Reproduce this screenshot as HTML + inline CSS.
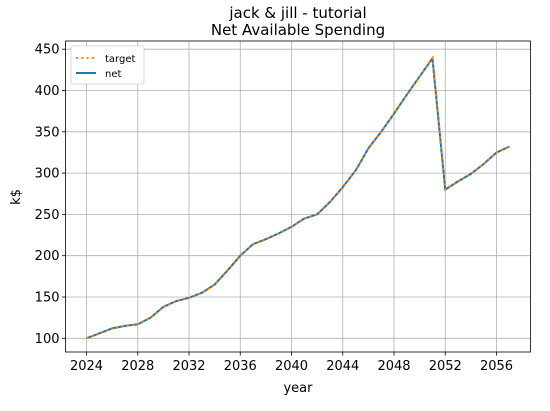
<!DOCTYPE html>
<html><head><meta charset="utf-8"><style>body{margin:0;background:#fff}svg{display:block;font-family:"DejaVu Sans","Liberation Sans",sans-serif}</style></head>
<body>
<svg id="c" width="550" height="411"></svg>
<script>
const years=[2024,2025,2026,2027,2028,2029,2030,2031,2032,2033,2034,2035,2036,2037,2038,2039,2040,2041,2042,2043,2044,2045,2046,2047,2048,2049,2050,2051,2052,2053,2054,2055,2056,2057];
const netValues=[100,106,112,115,117,125,138,145,149,155,165,182,200,214,220,227,235,245,250,265,283,303,330,350,372,395,417,439,280,290,299,311,325,332];
const targetValues=netValues.slice();
const xTicks=[2024,2028,2032,2036,2040,2044,2048,2052,2056];
const yTicks=[100,150,200,250,300,350,400,450];
const L=65.5,R=530.5,T=41,B=352;
const x=v=>86.5+(v-2024)*12.8125;
const y=v=>338.3-(v-100)*41.3/50;
const s=document.getElementById('c');const NS='http://www.w3.org/2000/svg';
function el(t,a,txt){const e=document.createElementNS(NS,t);for(const k in a)e.setAttribute(k,a[k]);if(txt!==undefined)e.textContent=txt;s.appendChild(e);return e;}
let e;
xTicks.forEach(v=>{e=el('line',{x1:x(v),x2:x(v),y1:T,y2:B,stroke:'#b0b0b0','stroke-width':0.8});
e=el('line',{x1:x(v),x2:x(v),y1:B,y2:B+3.5,stroke:'#000','stroke-width':0.8});
e=el('text',{x:x(v),y:B+18,'text-anchor':'middle','font-size':13},v);});
yTicks.forEach(v=>{e=el('line',{x1:L,x2:R,y1:y(v),y2:y(v),stroke:'#b0b0b0','stroke-width':0.8});
e=el('line',{x1:L-3.5,x2:L,y1:y(v),y2:y(v),stroke:'#000','stroke-width':0.8});
e=el('text',{x:L-6,y:y(v)+4.5,'text-anchor':'end','font-size':13},v);});
const pts=a=>a.map((v,i)=>x(years[i])+','+y(v)).join(' ');
e=el('polyline',{points:pts(netValues),fill:'none',stroke:'#1f77b4','stroke-width':2});
e=el('polyline',{points:pts(targetValues),fill:'none',stroke:'#ff7f0e','stroke-width':2,'stroke-dasharray':'2,3.3'});
e=el('rect',{x:L,y:T,width:R-L,height:B-T,fill:'none',stroke:'#000','stroke-width':0.8});
e=el('text',{x:298,y:18,'text-anchor':'middle','font-size':15},'jack & jill - tutorial');
e=el('text',{x:298,y:35,'text-anchor':'middle','font-size':15},'Net Available Spending');
e=el('text',{x:298,y:392,'text-anchor':'middle','font-size':13},'year');
e=el('text',{x:20,y:197,'text-anchor':'middle','font-size':13,transform:'rotate(-90 20 197)'},'k$');
e=el('rect',{x:71,y:46,width:73,height:38,rx:2,fill:'#fff',stroke:'#d0d0d0','stroke-width':0.8});
e=el('line',{x1:76,x2:96,y1:58,y2:58,stroke:'#ff7f0e','stroke-width':2,'stroke-dasharray':'2,3.3'});
e=el('text',{x:105,y:62,'font-size':10},'target');
e=el('line',{x1:76,x2:96,y1:73,y2:73,stroke:'#1f77b4','stroke-width':2});
e=el('text',{x:105,y:77,'font-size':10},'net');
</script>
</body></html>
